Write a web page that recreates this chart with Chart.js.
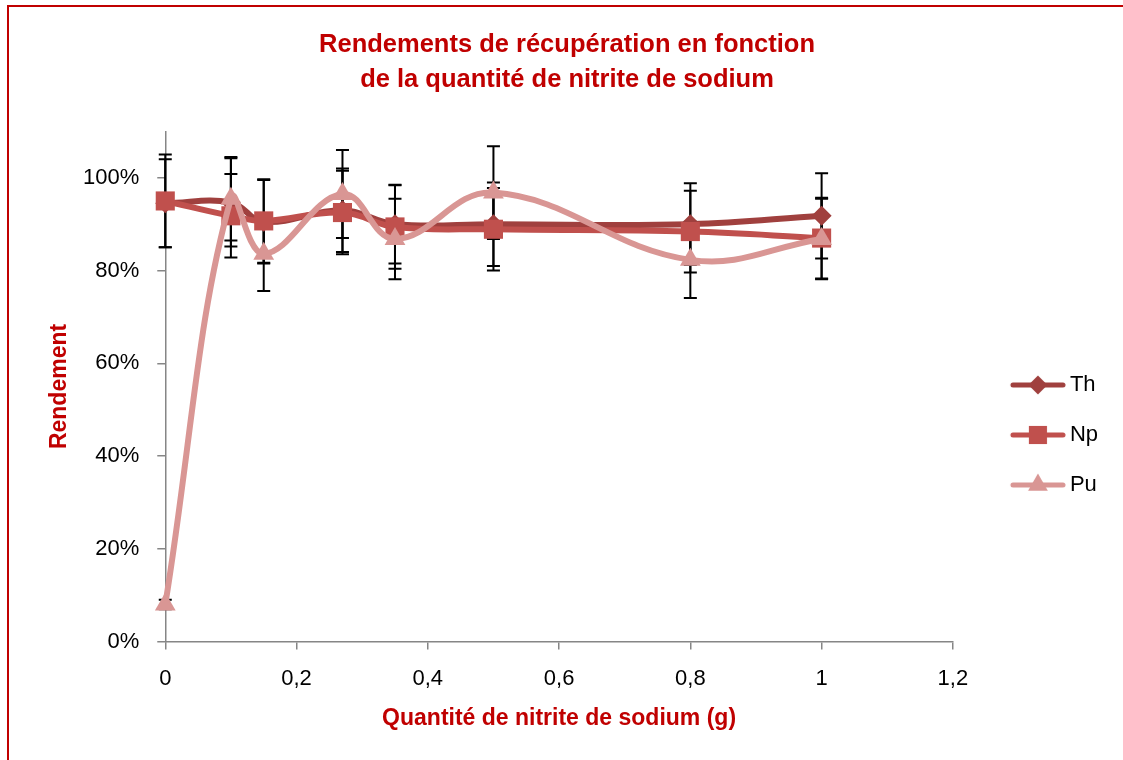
<!DOCTYPE html>
<html>
<head>
<meta charset="utf-8">
<title>Rendements de récupération</title>
<script src="https://cdn.jsdelivr.net/npm/chart.js@4.4.1/dist/chart.umd.min.js"></script>
<style>
  html, body { margin: 0; padding: 0; background: #fff; overflow: hidden; }
  #frame { position: absolute; left: 7px; top: 5px; width: 1200px; height: 900px; border: 2px solid #C00000; }
  #chart { position: absolute; left: 0; top: 0; }
</style>
</head>
<body>
<div id="frame"></div>
<canvas id="chart" width="1123" height="760"></canvas>
<script>
// Quantité de nitrite de sodium (g)
const quantities = [0, 0.1, 0.15, 0.27, 0.35, 0.5, 0.8, 1];

// Rendements
const thValues = [0.945, 0.947, 0.905, 0.93, 0.90, 0.90, 0.90, 0.918];
const npValues = [0.95, 0.918, 0.907, 0.925, 0.894, 0.889, 0.884, 0.87];
const puValues = [0.08, 0.955, 0.836, 0.965, 0.868, 0.968, 0.823, 0.868];

// Barres d'erreur (+/-)
const thErrors = [0.095, 0.095, 0.09, 0.09, 0.085, 0.09, 0.088, 0.092];
const npErrors = [0.10, 0.09, 0.09, 0.09, 0.09, 0.089, 0.088, 0.087];
const puErrors = [0.01, 0.09, 0.08, 0.095, 0.087, 0.10, 0.082, 0.087];

const seriesNames = ['Th', 'Np', 'Pu'];
const xTicks = [0, 0.2, 0.4, 0.6, 0.8, 1, 1.2];
const yTicks = [0, 0.2, 0.4, 0.6, 0.8, 1];

const FONT = "'Liberation Sans', Arial, sans-serif";
const RED = '#C00000';
Chart.defaults.font.family = FONT;

const series = [
    { values: thValues, errors: thErrors, color: '#A0403E', style: 'rectRot', radius: 10, order: 2 },
    { values: npValues, errors: npErrors, color: '#C0504D', style: 'rect', radius: 13.5, order: 1 },
    { values: puValues, errors: puErrors, color: '#D99694', style: 'triangle', radius: 12, order: 0 }
];

// little line + marker picture for the legend, like Excel does
function makeLegendIcon(s) {
    const c = document.createElement('canvas');
    c.width = 92;
    c.height = 28;
    const g = c.getContext('2d');
    g.strokeStyle = s.color;
    g.lineWidth = 5;
    g.lineCap = 'round';
    g.beginPath();
    g.moveTo(39, 14);
    g.lineTo(89, 14);
    g.stroke();
    g.fillStyle = s.color;
    Chart.helpers.drawPoint(g, { pointStyle: s.style, radius: s.radius * 0.95, rotation: 0, borderWidth: 0 }, 64, 14);
    return c;
}
const legendIcons = series.map(makeLegendIcon);

const errorBars = {
    id: 'errorBars',
    beforeDatasetsDraw(chart) {
        const { ctx, scales: { x, y } } = chart;
        ctx.save();
        ctx.strokeStyle = '#000';
        ctx.lineWidth = 2;
        series.forEach(s => {
            s.values.forEach((v, i) => {
                const px = x.getPixelForValue(quantities[i]);
                const top = y.getPixelForValue(v + s.errors[i]);
                const bot = y.getPixelForValue(v - s.errors[i]);
                ctx.beginPath();
                ctx.moveTo(px, top);
                ctx.lineTo(px, bot);
                ctx.moveTo(px - 6.5, top);
                ctx.lineTo(px + 6.5, top);
                ctx.moveTo(px - 6.5, bot);
                ctx.lineTo(px + 6.5, bot);
                ctx.stroke();
            });
        });
        ctx.restore();
    }
};

const datasets = series.map((s, k) => ({
    label: seriesNames[k],
    data: quantities.map((q, i) => ({ x: q, y: s.values[i] })),
    borderColor: s.color,
    backgroundColor: s.color,
    borderWidth: 6,
    pointStyle: s.style,
    pointRadius: s.radius,
    pointHoverRadius: s.radius,
    pointBorderWidth: 0,
    pointBackgroundColor: s.color,
    tension: 0.4,
    order: s.order,
    clip: false
}));

const tickFont = { family: FONT, size: 22 };
const titleFont = { family: FONT, size: 23, weight: 'bold', lineHeight: 1.0 };

new Chart(document.getElementById('chart'), {
    type: 'line',
    data: { datasets },
    options: {
        responsive: false,
        animation: false,
        layout: { padding: { left: 26, right: 15, top: 0, bottom: 0 } },
        plugins: {
            title: {
                display: true,
                text: ['Rendements de récupération en fonction', 'de la quantité de nitrite de sodium'],
                color: RED,
                font: { family: FONT, size: 25.5, weight: 'bold', lineHeight: 1.38 },
                padding: { top: 27, bottom: 34 }
            },
            legend: {
                position: 'right',
                align: 'center',
                title: { display: true, text: ' ', font: { size: 10 }, padding: { top: 0, bottom: 98 } },
                labels: {
                    usePointStyle: true,
                    pointStyleWidth: 78,
                    padding: 28,
                    color: '#000',
                    font: tickFont,
                    generateLabels: () => seriesNames.map((name, i) => ({
                        text: name,
                        pointStyle: legendIcons[i],
                        datasetIndex: i,
                        fillStyle: 'transparent',
                        strokeStyle: 'transparent',
                        lineWidth: 0,
                        hidden: false,
                        fontColor: '#000'
                    }))
                }
            },
            tooltip: { enabled: false }
        },
        scales: {
            x: {
                type: 'linear',
                min: 0,
                max: 1.2,
                afterBuildTicks: scale => { scale.ticks = xTicks.map(v => ({ value: v })); },
                ticks: {
                    color: '#000',
                    font: tickFont,
                    padding: 16,
                    callback: v => String(Math.round(v * 10) / 10).replace('.', ',')
                },
                grid: { drawOnChartArea: false, drawTicks: true, tickLength: 8, color: '#868686', lineWidth: 1.5 },
                border: { color: '#868686', width: 1.5 },
                title: { display: true, text: 'Quantité de nitrite de sodium (g)', color: RED, font: titleFont, padding: { top: -1, bottom: 30 } }
            },
            y: {
                min: 0,
                max: 1.1,
                afterBuildTicks: scale => { scale.ticks = yTicks.map(v => ({ value: v })); },
                ticks: {
                    color: '#000',
                    font: tickFont,
                    padding: 18,
                    callback: v => Math.round(v * 100) + '%'
                },
                grid: { drawOnChartArea: false, drawTicks: true, tickLength: 8, color: '#868686', lineWidth: 1.5 },
                border: { color: '#868686', width: 1.5 },
                title: { display: true, text: 'Rendement', color: RED, font: titleFont, padding: { top: 22, bottom: -6 } }
            }
        }
    },
    plugins: [errorBars]
});
</script>
</body>
</html>
